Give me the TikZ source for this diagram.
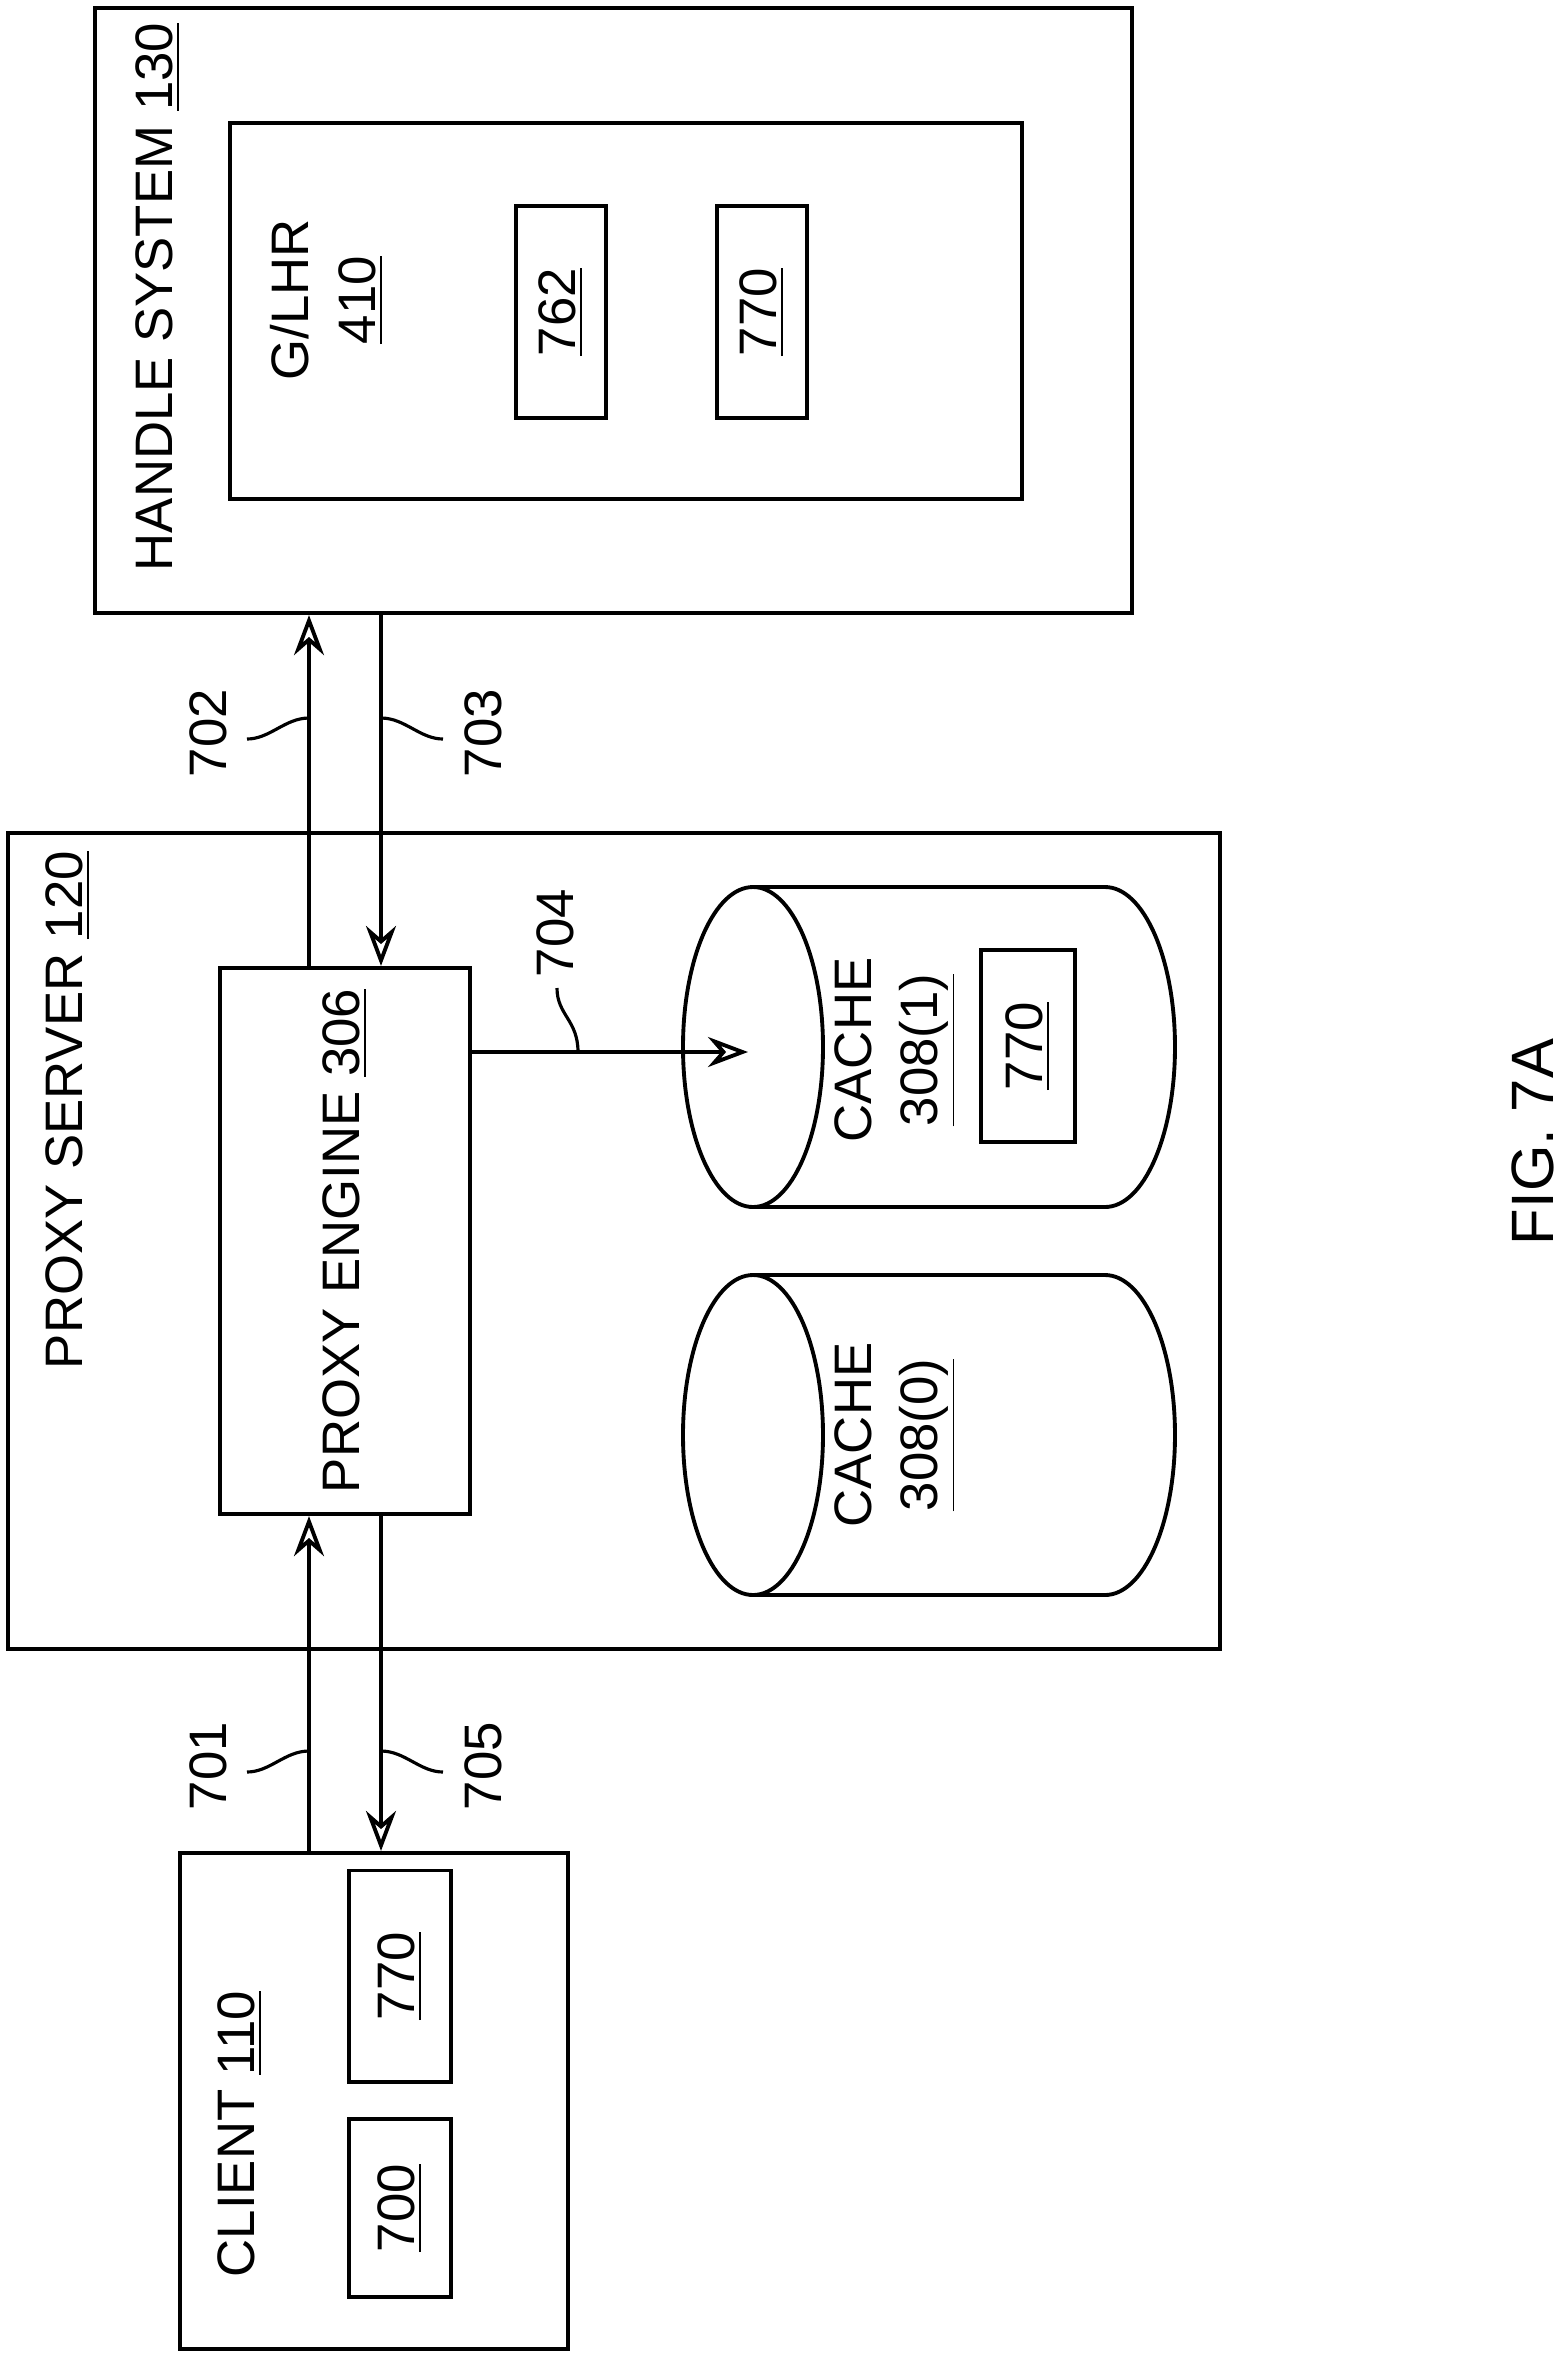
\documentclass[tikz,border=0pt]{standalone}
\usepackage{fontspec}
\setmainfont{Liberation Sans}
\usetikzlibrary{arrows.meta,positioning}

\begin{document}
\begin{tikzpicture}[
    x=0.01cm, y=-0.01cm,
    line width=1.1pt,
    box/.style={draw, rectangle, inner sep=0pt},
    lbl/.style={rotate=90, font=\fontsize{15}{19}\selectfont, align=center, inner sep=1pt},
    arrow/.style={-{Stealth[length=4mm, width=3mm, open]}},
    lead/.style={line width=0.9pt}
]
    \useasboundingbox (0,0) rectangle (1563,2359);

    % Handle system
    \node[box, minimum width=1037\pgflinewidth*0+10.37cm, minimum height=6.05cm] (hs) at (613.5,310.5) {};
    \node[box, minimum width=7.92cm, minimum height=3.76cm] (glhr) at (626,311) {};
    \node[lbl] (hslbl) at (158,297) {HANDLE SYSTEM \underline{130}};
    \node[lbl] (glhrlbl) at (327,300) {G/LHR\\\underline{410}};
    \node[box, minimum width=0.9cm, minimum height=2.12cm] (b762) at (561,312) {};
    \node[lbl] at (b762) {\underline{762}};
    \node[box, minimum width=0.9cm, minimum height=2.12cm] (b770h) at (762,312) {};
    \node[lbl] at (b770h) {\underline{770}};

    % Proxy server
    \node[box, minimum width=12.12cm, minimum height=8.16cm] (ps) at (614,1241) {};
    \node[lbl] (pslbl) at (68,1110) {PROXY SERVER \underline{120}};
    \node[box, minimum width=2.5cm, minimum height=5.46cm] (engine) at (345,1241) {};
    \node[lbl] at (engine) {PROXY ENGINE \underline{306}};

    % Caches
    \foreach \cy/\nm in {1047/1, 1435/0} {
        \draw (1105,\cy-160) -- (753,\cy-160)
              arc[start angle=90, end angle=270, x radius=70, y radius=-160]
              -- (1105,\cy+160)
              arc[start angle=-90, end angle=90, x radius=70, y radius=-160];
        \draw (753,\cy-160) arc[start angle=90, end angle=-90, x radius=70, y radius=-160];
        \coordinate (cache\nm) at (753,\cy);
    }
    \node[lbl] at (895,1050) {CACHE\\\underline{308(1)}};
    \node[lbl] at (895,1435) {CACHE\\\underline{308(0)}};
    \node[box, minimum width=0.94cm, minimum height=1.92cm] (b770c) at (1028,1046) {};
    \node[lbl] at (b770c) {\underline{770}};

    % Client
    \node[box, minimum width=3.88cm, minimum height=4.96cm] (client) at (374,2101) {};
    \node[lbl] at (240,2134) {CLIENT \underline{110}};
    \node[box, minimum width=1.02cm, minimum height=1.78cm] (b700) at (400,2208) {};
    \node[lbl] at (b700) {\underline{700}};
    \node[box, minimum width=1.02cm, minimum height=2.11cm] (b770k) at (400,1976) {};
    \node[lbl] at (b770k) {\underline{770}};

    % Arrows
    \draw[arrow] (engine.north -| 309,0) -- (hs.south -| 309,0);
    \draw[arrow] (hs.south -| 381,0) -- (engine.north -| 381,0);
    \draw[arrow] (client.north -| 309,0) -- (engine.south -| 309,0);
    \draw[arrow] (engine.south -| 381,0) -- (client.north -| 381,0);
    \coordinate (t704) at (748,1052);
    \draw[arrow] (engine.east |- t704) -- (t704);

    % Reference numerals
    \foreach \yy/\la/\lb in {718/702/703, 1751/701/705} {
        \draw[lead] (309,\yy) .. controls (285,\yy) and (270,\yy+21) .. (247,\yy+21);
        \draw[lead] (381,\yy) .. controls (405,\yy) and (420,\yy+21) .. (443,\yy+21);
        \node[lbl] at (208,\yy+15) {\la};
        \node[lbl] at (483,\yy+15) {\lb};
    }
    \draw[lead] (578,1052) .. controls (578,1020) and (557,1015) .. (557,988);
    \node[lbl] at (555,933) {704};

    \node[lbl, font=\fontsize{17}{20}\selectfont] (fig) at (1533,1142) {FIG. 7A};
\end{tikzpicture}
\end{document}
